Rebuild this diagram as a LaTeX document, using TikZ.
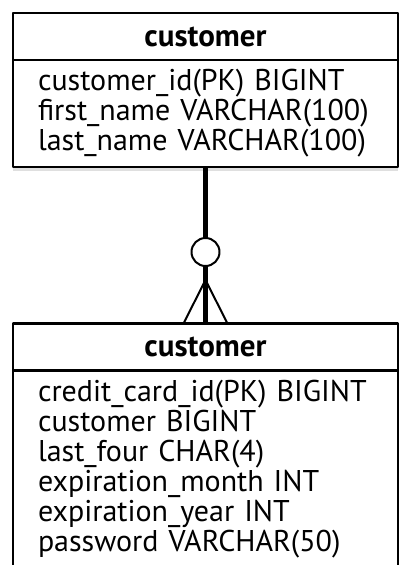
\documentclass[tikz,border=0pt]{standalone}
\usepackage{fontspec}
\setmainfont{PT Sans}
\usetikzlibrary{positioning,shadows}

\tikzset{
	enthead/.style={draw,line width=2.5pt,fill=white,outer sep=0pt,inner sep=0pt,
		minimum width=385pt,minimum height=47pt,font=\fontsize{31}{30}\selectfont\bfseries},
	entbody/.style={draw,line width=2.5pt,fill=white,outer sep=0pt,align=left,
		text width=335pt,inner xsep=25pt,font=\fontsize{30}{30}\selectfont},
	bodyshadow/.style={drop shadow={opacity=0.25,shadow xshift=0pt,shadow yshift=-4pt}},
	relline/.style={line width=5pt},
	footline/.style={line width=2pt},
}

\begin{document}
\begin{tikzpicture}[x=1pt,y=-1pt,line join=round]
		\useasboundingbox (0,0) rectangle (399,565);
		\fill[white] (0,0) rectangle (399,565);
		\clip (0,0) rectangle (399,565);
		% first table
		\node[enthead] (custA) at (205.5,36.5) {customer};
		\node[entbody,bodyshadow,below=0pt of custA,minimum height=107pt] (custAbody)
			{customer\_id(PK) BIGINT\\first\_name VARCHAR(100)\\last\_name VARCHAR(100)};
		% second table
		\node[enthead] (custB) at (205.5,347) {customer};
		\node[entbody,below=0pt of custB,inner ysep=10pt] (custBbody)
			{credit\_card\_id(PK) BIGINT\\customer BIGINT\\last\_four CHAR(4)\\expiration\_month INT\\expiration\_year INT\\password VARCHAR(50)};
		% zero or many
		\node[circle,draw,line width=2pt,fill=white,inner sep=0pt,minimum size=28pt] (opt) at (205.5,252) {};
		\coordinate (crow) at (205.5,280);
		\draw[relline] (custAbody.south) -- (opt.north);
		\draw[relline] (opt.south) -- (custB.north);
		\draw[footline] ([xshift=-22pt]custB.north) -- (crow) -- ([xshift=22pt]custB.north);
	\end{tikzpicture}
\end{document}
